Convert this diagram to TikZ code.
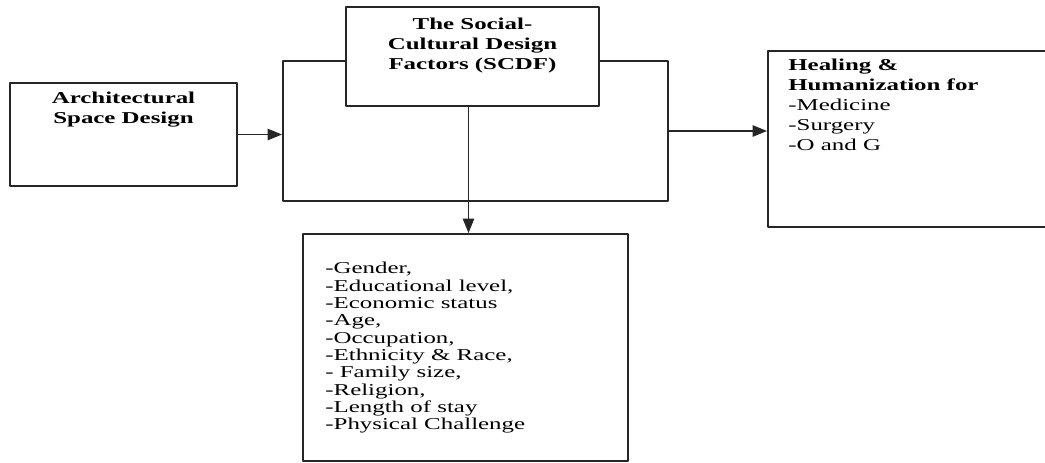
\documentclass[tikz,border=0pt]{standalone}
\usepackage{fontspec}
\setmainfont{Liberation Serif}[FakeStretch=1.5]
\usetikzlibrary{positioning,fit,arrows.meta}

\begin{document}
\begin{tikzpicture}[x=0.025cm,y=-0.025cm,>={Triangle[length=3.6mm,width=2.8mm]},line join=round,
  frame/.style={draw=black!85,line width=1.3pt,inner sep=0pt},
  conn/.style={draw=black!85,line width=1.3pt,->},
  txt/.style={font=\fontsize{11.8}{14.2}\selectfont,align=center,inner sep=0pt},
  list/.style={font=\fontsize{11.8}{12.35}\selectfont,align=left,inner sep=0pt}]
\useasboundingbox (0,0) rectangle (1045,462);
% boxes
\node[frame,fit={(10,83) (237,186)}] (asd) {};
\node[frame,fit={(283,61) (668,201)}] (hub) {};
\node[frame,fill=white,fit={(346,7) (599,106)}] (scdf) {};
\node[frame,fit={(768,51) (1047,227)}] (heal) {};
\node[frame,fit={(303,234) (628,461)}] (factors) {};
% texts
\node[txt,font=\bfseries\fontsize{11.8}{14.2}\selectfont,below=0.25cm of asd.north] (asdtxt) {Architectural\\Space Design};
\node[txt,font=\bfseries\fontsize{11.8}{14.2}\selectfont,below=0.3cm of scdf.north] (scdftxt) {The Social-\\Cultural Design\\Factors (SCDF)};
\node[txt,align=left,anchor=north west] (healtxt) at ([xshift=0.525cm,yshift=-0.22cm]heal.north west)
  {\textbf{Healing \&}\\\textbf{Humanization for}\\-Medicine\\-Surgery\\-O and G};
\node[list,anchor=north west] (factxt) at ([xshift=0.575cm,yshift=-0.72cm]factors.north west)
  {-Gender,\\-Educational level,\\-Economic status\\-Age,\\-Occupation,\\-Ethnicity \& Race,\\- Family size,\\-Religion,\\-Length of stay\\-Physical Challenge};
% arrows
\draw[conn] (asd.east) -- (asd.east -| hub.west);
\draw[conn] (hub.east) -- (hub.east -| heal.west);
\draw[conn] ([xshift=-0.1cm]scdf.south) -- ([xshift=-0.1cm]scdf.south |- factors.north);
\end{tikzpicture}
\end{document}
